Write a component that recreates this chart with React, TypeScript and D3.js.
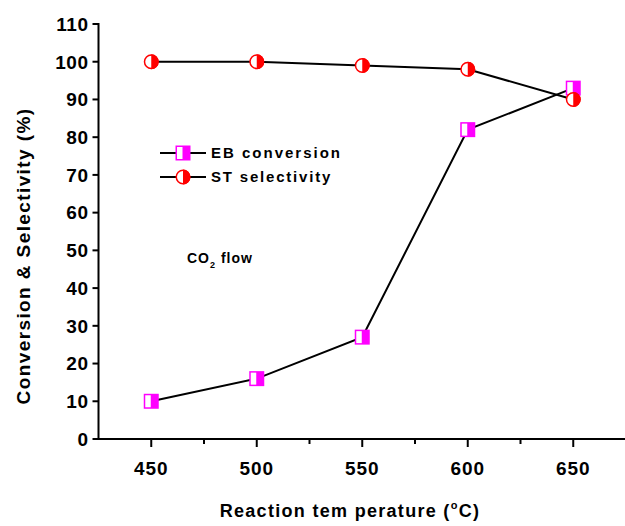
import * as React from "react";
import * as d3 from "d3";

// values
const temperatures = [450, 500, 550, 600, 650];
const ebConversion = [10, 16, 27, 82, 93];
const stSelectivity = [100, 100, 99, 98, 90];
const xTicks = [450, 500, 550, 600, 650];
const xMinorTicks = [475, 525, 575, 625];
const yTicks = [0, 10, 20, 30, 40, 50, 60, 70, 80, 90, 100, 110];

const W = 625;
const H = 526;
const FONT = "'Liberation Sans', Arial, sans-serif";
const MAGENTA = "#ff00ff";
const RED = "#ff0000";

function HalfSquare({ x, y }: { x: number; y: number }) {
  const s = 15;
  return (
    <g transform={`translate(${x - s / 2},${y - s / 2})`}>
      <rect x={0} y={0} width={s} height={s} fill={MAGENTA} />
      <rect x={1.5} y={1.5} width={5.5} height={s - 3} fill="#fff" />
    </g>
  );
}

function HalfCircle({ x, y }: { x: number; y: number }) {
  const r = 7.5;
  return (
    <g transform={`translate(${x},${y})`}>
      <circle r={r - 0.75} fill="#fff" stroke={RED} strokeWidth={1.5} />
      <path d={`M0,${-r} A${r},${r} 0 0 1 0,${r} Z`} fill={RED} />
    </g>
  );
}

export default function App() {
  const x = d3.scaleLinear().domain([425, 675]).range([98.5, 626]);
  const y = d3.scaleLinear().domain([0, 110]).range([439, 24]);

  const line = d3
    .line<number>()
    .x((_, i) => x(temperatures[i]))
    .y((d) => y(d));

  return (
    <svg
      width={W}
      height={H}
      style={{ position: "absolute", left: 0, top: 0, background: "#fff" }}
      fontFamily={FONT}
    >
      {/* axes */}
      <line x1={x(425)} x2={x(425)} y1={y(0) + 1} y2={y(110) - 1} stroke="#000" strokeWidth={2} />
      <line x1={x(425) - 1} x2={W} y1={y(0)} y2={y(0)} stroke="#000" strokeWidth={2} />

      {yTicks.map((t) => (
        <g key={"y" + t}>
          <line x1={x(425) - 6} x2={x(425)} y1={y(t)} y2={y(t)} stroke="#000" strokeWidth={2} />
          <text
            x={x(425) - 10}
            y={y(t)}
            dy="0.36em"
            textAnchor="end"
            fontSize={19}
            fontWeight="bold"
            letterSpacing={0.5}
          >
            {t}
          </text>
        </g>
      ))}

      {xTicks.map((t) => (
        <g key={"x" + t}>
          <line x1={x(t)} x2={x(t)} y1={y(0)} y2={y(0) + 8} stroke="#000" strokeWidth={2} />
          <text
            x={x(t)}
            y={y(0) + 36}
            textAnchor="middle"
            fontSize={19}
            fontWeight="bold"
            letterSpacing={1}
          >
            {t}
          </text>
        </g>
      ))}
      {xMinorTicks.map((t) => (
        <line key={"m" + t} x1={x(t)} x2={x(t)} y1={y(0)} y2={y(0) + 5} stroke="#000" strokeWidth={2} />
      ))}

      {/* axis titles */}
      <text
        x={350}
        y={517}
        textAnchor="middle"
        fontSize={18}
        fontWeight="bold"
        letterSpacing={1.3}
      >
        Reaction tem perature (
        <tspan fontSize={11} dy={-8}>o</tspan>
        <tspan dy={8}>C)</tspan>
      </text>
      <text
        transform="translate(30,256) rotate(-90)"
        textAnchor="middle"
        fontSize={19}
        fontWeight="bold"
        letterSpacing={1.4}
      >
        Conversion &amp; Selectivity (%)
      </text>

      {/* series */}
      <path d={line(ebConversion) ?? ""} fill="none" stroke="#000" strokeWidth={2} />
      <path d={line(stSelectivity) ?? ""} fill="none" stroke="#000" strokeWidth={2} />
      {ebConversion.map((v, i) => (
        <HalfSquare key={"eb" + i} x={x(temperatures[i])} y={y(v)} />
      ))}
      {stSelectivity.map((v, i) => (
        <HalfCircle key={"st" + i} x={x(temperatures[i])} y={y(v)} />
      ))}

      {/* legend */}
      <line x1={160} x2={206} y1={153} y2={153} stroke="#000" strokeWidth={2} />
      <HalfSquare x={183} y={153} />
      <text x={211} y={153} dy="0.36em" fontSize={15} fontWeight="bold" letterSpacing={2}>
        EB conversion
      </text>
      <line x1={160} x2={206} y1={177} y2={177} stroke="#000" strokeWidth={2} />
      <HalfCircle x={183} y={177} />
      <text x={211} y={177} dy="0.36em" fontSize={15} fontWeight="bold" letterSpacing={1.8}>
        ST selectivity
      </text>

      {/* annotation */}
      <text x={187} y={263} fontSize={14} fontWeight="bold" letterSpacing={1}>
        CO
        <tspan fontSize={9} dy={5}>2</tspan>
        <tspan dy={-5}> flow</tspan>
      </text>
    </svg>
  );
}
